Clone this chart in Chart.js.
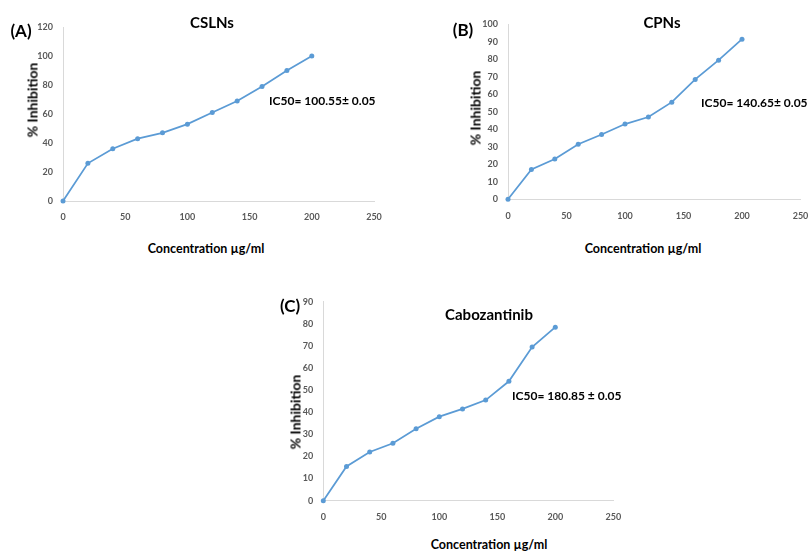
<!DOCTYPE html>
<html lang="en">
<head>
    <meta charset="UTF-8">
    <title>% Inhibition vs Concentration</title>
    <script src="https://cdn.jsdelivr.net/npm/chart.js"></script>
    <style>
        html, body {
            margin: 0;
            padding: 0;
            background: #fff;
            width: 808px;
            height: 552px;
            overflow: hidden;
            position: relative;
            font-family: Lato, "Open Sans", Arial, sans-serif;
        }
        canvas {
            position: absolute;
        }
        .lbl {
            position: absolute;
            white-space: nowrap;
            font-weight: bold;
            color: #000;
            transform: translate(-50%, -50%);
        }
        .panel { font-size: 17px; }
        .title { font-size: 15px; }
        .ytitle { font-size: 14px; transform: translate(-50%, -50%) rotate(-90deg); }
        .xtitle { font-size: 12.5px; }
        .ic50 { font-size: 12px; transform: translate(0, -50%); }
    </style>
</head>
<body>
    <canvas id="chartA"></canvas>
    <canvas id="chartB"></canvas>
    <canvas id="chartC"></canvas>

    <div class="lbl panel" style="left:21px; top:30px;">(A)</div>
    <div class="lbl title" style="left:212px; top:22px;">CSLNs</div>
    <div class="lbl ytitle" style="left:32px; top:100px;">% Inhibition</div>
    <div class="lbl xtitle" style="left:206px; top:248px;">Concentration µg/ml</div>
    <div class="lbl ic50" style="left:269px; top:100px;">IC50= 100.55± 0.05</div>

    <div class="lbl panel" style="left:463px; top:29px;">(B)</div>
    <div class="lbl title" style="left:662px; top:22px;">CPNs</div>
    <div class="lbl ytitle" style="left:475px; top:108px;">% Inhibition</div>
    <div class="lbl xtitle" style="left:643px; top:248px;">Concentration µg/ml</div>
    <div class="lbl ic50" style="left:701px; top:102px;">IC50= 140.65± 0.05</div>

    <div class="lbl panel" style="left:290px; top:305px;">(C)</div>
    <div class="lbl title" style="left:489px; top:314px;">Cabozantinib</div>
    <div class="lbl ytitle" style="left:295px; top:412px;">% Inhibition</div>
    <div class="lbl xtitle" style="left:489px; top:544px;">Concentration µg/ml</div>
    <div class="lbl ic50" style="left:512px; top:395px;">IC50= 180.85 ± 0.05</div>

    <script>
        // concentrations (µg/ml), same for all three panels
        const concentrations = [0, 20, 40, 60, 80, 100, 120, 140, 160, 180, 200];

        // % inhibition
        const cslnsValues = [0, 26, 36, 43, 47, 53, 61, 69, 79, 90, 100];
        const cpnsValues = [0, 17, 23, 31.5, 37, 43, 47, 55.5, 68.5, 79.5, 91.5];
        const caboValues = [0, 15.5, 22, 26, 32.5, 38, 41.5, 45.5, 54, 69.5, 78.5];

        // axis ranges
        const xMax = 250, xStep = 50;
        const yMaxA = 120, yStepA = 20;
        const yMaxB = 100, yStepB = 10;
        const yMaxC = 90, yStepC = 10;

        const lineColor = '#5b9bd5';
        const axisColor = '#d9d9d9';
        const tickColor = '#595959';

        function makeChart(id, box, values, yMax, yStep) {
            const canvas = document.getElementById(id);
            canvas.style.left = box.x + 'px';
            canvas.style.top = box.y + 'px';
            canvas.width = box.w;
            canvas.height = box.h;

            const points = concentrations.map((c, i) => ({ x: c, y: values[i] }));

            new Chart(canvas.getContext('2d'), {
                type: 'line',
                data: {
                    datasets: [{
                        data: points,
                        borderColor: lineColor,
                        backgroundColor: lineColor,
                        borderWidth: 1.75,
                        pointRadius: 2.5,
                        pointBorderWidth: 0,
                        tension: 0,
                        clip: false
                    }]
                },
                options: {
                    responsive: false,
                    animation: false,
                    layout: {
                        padding: { left: 0, top: box.top, right: box.right, bottom: 0 }
                    },
                    plugins: {
                        legend: { display: false },
                        tooltip: { enabled: false },
                        title: { display: false }
                    },
                    scales: {
                        x: {
                            type: 'linear',
                            min: 0,
                            max: xMax,
                            grid: { display: false, drawTicks: false },
                            border: { display: true, color: axisColor, width: 1 },
                            ticks: {
                                stepSize: xStep,
                                padding: 11,
                                color: tickColor,
                                font: { family: 'Lato', size: 9, weight: 'bold' }
                            },
                            afterFit: (scale) => { scale.height = box.xh; }
                        },
                        y: {
                            min: 0,
                            max: yMax,
                            grid: { display: false, drawTicks: false },
                            border: { display: true, color: axisColor, width: 1 },
                            ticks: {
                                stepSize: yStep,
                                padding: 10,
                                color: tickColor,
                                font: { family: 'Lato', size: 9, weight: 'bold' }
                            },
                            afterFit: (scale) => { scale.width = box.yw; }
                        }
                    }
                }
            });
        }

        // canvas boxes; plot area comes out of yw / xh / top / right
        makeChart('chartA', { x: 0, y: 0, w: 400, h: 235, yw: 63, xh: 34, top: 27, right: 26 },
            cslnsValues, yMaxA, yStepA);
        makeChart('chartB', { x: 440, y: 0, w: 400, h: 235, yw: 68, xh: 35.7, top: 24.3, right: 39.5 },
            cpnsValues, yMaxB, yStepB);
        makeChart('chartC', { x: 270, y: 280, w: 380, h: 250, yw: 53.3, xh: 29.3, top: 21.7, right: 36.7 },
            caboValues, yMaxC, yStepC);
    </script>
</body>
</html>
